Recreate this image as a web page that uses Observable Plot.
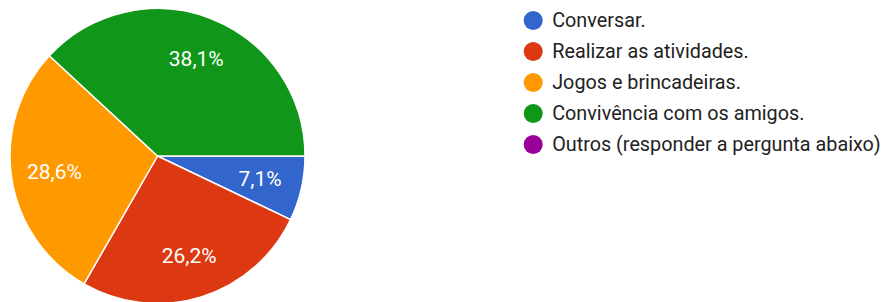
<!DOCTYPE html>
<html>
<head>
<meta charset="utf-8">
<script src="https://cdn.jsdelivr.net/npm/d3@7"></script>
<script src="https://cdn.jsdelivr.net/npm/@observablehq/plot@0.6"></script>
<style>
  html, body { margin: 0; padding: 0; background: #fff; }
  #chart { position: relative; width: 888px; height: 302px; overflow: hidden; }
  #pie { position: absolute; left: 0; top: 0; }
  #legend { position: absolute; left: 510px; top: 0; }
</style>
</head>
<body>
<div id="chart"><div id="pie"></div><div id="legend"></div></div>
<script>
const categories = [
  "Conversar.",
  "Realizar as atividades.",
  "Jogos e brincadeiras.",
  "Convivência com os amigos.",
  "Outros (responder a pergunta abaixo)"
];
const percents = [7.1, 26.2, 28.6, 38.1, 0];
const colors = ["#3366cc", "#dc3912", "#ff9900", "#109618", "#990099"];

const data = categories.map((c, i) => ({category: c, value: percents[i]}));
const arcs = d3.pie().value(d => d.value).sort(null)
  .startAngle(Math.PI / 2).endAngle(Math.PI / 2 + 2 * Math.PI)(data);
const slices = arcs.map(a => {
  const mid = (a.startAngle + a.endAngle) / 2;
  return {
    category: a.data.category,
    value: a.data.value,
    startAngle: a.startAngle,
    endAngle: a.endAngle,
    lx: 0.71 * Math.sin(mid),
    ly: -0.71 * Math.cos(mid),
    label: a.data.value > 0 ? a.data.value.toFixed(1).replace(".", ",") + "%" : ""
  };
});

const color = {domain: categories, range: colors};

function pieMark(index, scales) {
  const cx = scales.x(0), cy = scales.y(0);
  const r = scales.x(1) - scales.x(0);
  const arc = d3.arc().innerRadius(0).outerRadius(r);
  const g = d3.create("svg:g").attr("transform", `translate(${cx},${cy})`);
  g.selectAll("path")
    .data(slices.filter(s => s.value > 0))
    .join("path")
    .attr("d", d => arc(d))
    .attr("fill", d => scales.color(d.category))
    .attr("stroke", "#fff")
    .attr("stroke-width", 1.5)
    .attr("stroke-linejoin", "round");
  return g.node();
}

const pie = Plot.plot({
  width: 320,
  height: 302,
  margin: 0,
  style: {background: "transparent", overflow: "visible"},
  x: {domain: [-1, 1], range: [10, 305], axis: null},
  y: {domain: [-1, 1], range: [8.5, 303.5], axis: null},
  color,
  marks: [
    pieMark,
    Plot.text(slices.filter(s => s.value > 0), {
      x: "lx", y: "ly", text: "label",
      fill: "#fff", fontSize: 21, fontFamily: "Roboto"
    })
  ]
});
document.getElementById("pie").appendChild(pie);

const legend = Plot.plot({
  width: 378,
  height: 302,
  margin: 0,
  style: {background: "transparent", overflow: "visible"},
  x: {domain: [0, 1], range: [22.7, 400], axis: null},
  y: {type: "point", domain: categories, range: [19.5, 145], padding: 0, axis: null},
  color,
  marks: [
    Plot.dot(data, {x: () => 0, y: "category", r: 9.5, fill: "category", stroke: null}),
    Plot.text(data, {
      x: () => 0, y: "category", text: "category", dx: 19, textAnchor: "start",
      fill: "#222", fontSize: 19.8, fontFamily: "Roboto"
    })
  ]
});
document.getElementById("legend").appendChild(legend);
</script>
</body>
</html>
